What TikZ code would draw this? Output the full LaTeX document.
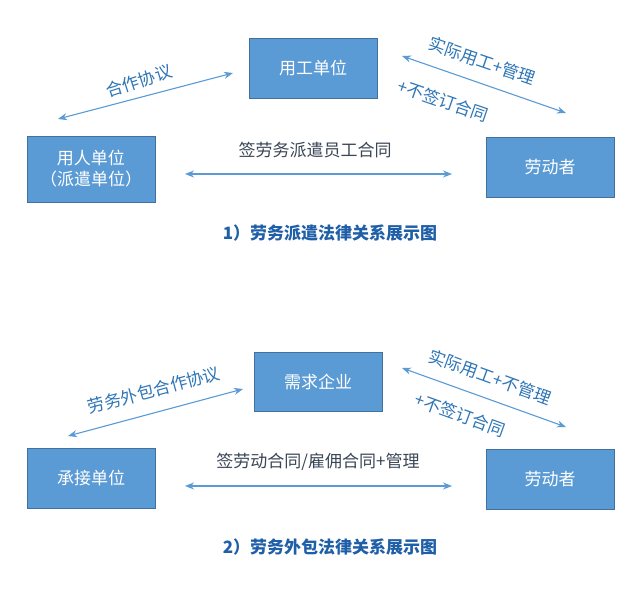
\documentclass[tikz,border=0pt]{standalone}
\usepackage{fontspec}
\setmainfont{Noto Sans CJK SC}
\usetikzlibrary{arrows.meta}
\definecolor{boxblue}{HTML}{5B9BD5}
\definecolor{boxline}{HTML}{41719C}
\definecolor{arrblue}{HTML}{5B9BD5}
\definecolor{lblblue}{HTML}{2E75B6}
\definecolor{lbldark}{HTML}{3A4656}
\definecolor{capblue}{HTML}{1F5FA8}
\tikzset{
  unit/.style={draw=boxline, fill=boxblue, text=white, minimum width=128pt, minimum height=60pt, inner sep=0pt, align=center, font=\fontsize{17}{21}\selectfont},
  rel/.style={arrblue, line width=1.1pt, {Stealth[length=9pt,width=7pt]}-{Stealth[length=9pt,width=7pt]}},
  lbl/.style={text=lblblue, inner sep=0pt, font=\fontsize{17}{20}\selectfont},
  figtitle/.style={text=capblue, inner sep=0pt, font=\bfseries\fontsize{17}{20}\selectfont}
}

\begin{document}
\begin{tikzpicture}[x=1pt,y=-1pt]
    \useasboundingbox[fill=white] (0,0) rectangle (640,589);

    %dispatch
    \node[unit] (user1) at (313,68) {用工单位};
    \node[unit, minimum height=66pt] (agency) at (91,169) {用人单位\\（派遣单位）};
    \node[unit] (worker1) at (550,167) {劳动者};
    \coordinate (a1) at (58,119);  \coordinate (b1) at (233,73);
    \coordinate (c1) at (185,174); \coordinate (d1) at (452,174);
    \coordinate (e1) at (402,56);  \coordinate (f1) at (566,113);
    \draw[rel] (a1) -- (b1);
    \draw[rel] (c1) -- (d1);
    \draw[rel] (e1) -- (f1);
    \node[lbl, rotate=18] (coop1) at (139,81) {合作协议};
    \node[lbl, text=lbldark] (deal1) at (315,150) {签劳务派遣员工合同};
    \node[lbl, rotate=-19] (use1) at (482,61) {实际用工+管理};
    \node[lbl, rotate=-19] (nocon1) at (443,101) {+不签订合同};
    \node[figtitle] (title1) at (330,233) {1）劳务派遣法律关系展示图};

    %outsourcing
    \node[unit, minimum height=59pt] (user2) at (318,381.5) {需求企业};
    \node[unit] (contractor) at (91,478) {承接单位};
    \node[unit] (worker2) at (550,479) {劳动者};
    \coordinate (a2) at (68,436);  \coordinate (b2) at (243,389);
    \coordinate (c2) at (185,486); \coordinate (d2) at (452,486);
    \coordinate (e2) at (402,368); \coordinate (f2) at (566,427);
    \draw[rel] (a2) -- (b2);
    \draw[rel] (c2) -- (d2);
    \draw[rel] (e2) -- (f2);
    \node[lbl, rotate=15] (coop2) at (154,390) {劳务外包合作协议};
    \node[lbl, text=lbldark] (deal2) at (318,462) {签劳动合同/雇佣合同+管理};
    \node[lbl, rotate=-20] (use2) at (490,377) {实际用工+不管理};
    \node[lbl, rotate=-20] (nocon2) at (460,415) {+不签订合同};
    \node[figtitle] (title2) at (330,547) {2）劳务外包法律关系展示图};
\end{tikzpicture}
\end{document}
